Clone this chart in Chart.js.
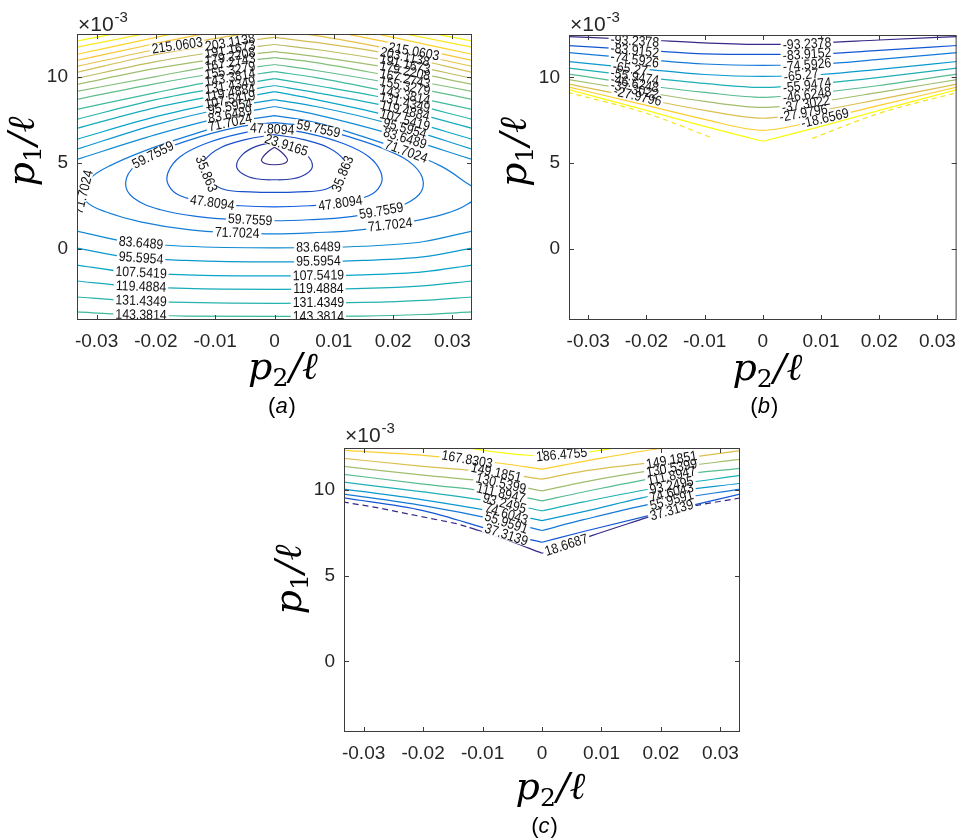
<!DOCTYPE html>
<html lang="en">
<head>
  <meta charset="UTF-8">
  <title>Contour panels (a) (b) (c)</title>
  <script src="https://cdn.jsdelivr.net/npm/chart.js"></script>
  <style>
    body { margin: 0; background: #fff; }
    #page { position: relative; width: 966px; height: 839px; }
    canvas { position: absolute; }
  </style>
</head>
<body>
<div id="page">
  <canvas id="chartA" width="490" height="420" style="left:0;top:0;width:490px;height:420px"></canvas>
  <canvas id="chartB" width="476" height="420" style="left:490px;top:0;width:476px;height:420px"></canvas>
  <canvas id="chartC" width="480" height="419" style="left:270px;top:420px;width:480px;height:419px"></canvas>
</div>
<script>
// axes shared by the three panels (y in units of 1e-3)
const xTicks = [-0.03, -0.02, -0.01, 0, 0.01, 0.02, 0.03];
const yTicks = [0, 5, 10];
const xRange = [-0.0333, 0.0333];
const yRange = [-4.13, 12.47];

// ---------- panel (a) ----------
// closed contours around the minimum (start/end on top, x = 0)
const aLoopLevels = [11.9700, 23.9165, 35.8630, 47.8094, 59.7559, 71.7024];
const aLoops = [
  [[0,5.90],[-0.0011,5.64],[-0.0019,5.35],[-0.0022,5.12],[-0.0015,4.94],[0,4.88],[0.0015,4.94],[0.0022,5.12],[0.0019,5.35],[0.0011,5.64],[0,5.90]],
  [[0,6.22],[-0.0032,5.93],[-0.0054,5.47],[-0.0064,4.83],[-0.0054,4.36],[-0.0031,4.07],[0,4.01],[0.0031,4.07],[0.0054,4.36],[0.0064,4.83],[0.0054,5.47],[0.0032,5.93],[0,6.22]],
  [[0,6.63],[-0.0049,6.34],[-0.0091,5.87],[-0.0117,5.17],[-0.0120,4.59],[-0.0108,3.90],[-0.0083,3.43],[-0.0041,3.31],[0,3.28],[0.0041,3.31],[0.0083,3.43],[0.0108,3.90],[0.0120,4.59],[0.0117,5.17],[0.0091,5.87],[0.0049,6.34],[0,6.63]],
  [[0,6.98],[-0.0058,6.69],[-0.0117,6.10],[-0.0159,5.35],[-0.0179,4.48],[-0.0179,3.72],[-0.0159,3.08],[-0.0108,2.67],[-0.0058,2.50],[0,2.44],[0.0058,2.50],[0.0108,2.67],[0.0159,3.08],[0.0179,3.72],[0.0179,4.48],[0.0159,5.35],[0.0117,6.10],[0.0058,6.69],[0,6.98]],
  [[0,7.33],[-0.0058,7.09],[-0.0125,6.51],[-0.0192,5.70],[-0.0235,4.83],[-0.0251,3.84],[-0.0238,2.97],[-0.0192,2.27],[-0.0125,1.86],[-0.0058,1.69],[0,1.63],[0.0058,1.69],[0.0125,1.86],[0.0192,2.27],[0.0238,2.97],[0.0251,3.84],[0.0235,4.83],[0.0192,5.70],[0.0125,6.51],[0.0058,7.09],[0,7.33]],
  [[0,7.73],[-0.0070,7.33],[-0.0144,6.57],[-0.0218,5.70],[-0.0277,4.83],[-0.0310,4.13],[-0.0324,3.43],[-0.0317,2.73],[-0.0285,2.15],[-0.0226,1.57],[-0.0142,1.10],[-0.0063,0.93],[0,0.87],[0.0062,0.93],[0.0144,1.10],[0.0228,1.57],[0.0287,2.03],[0.0321,2.50],[0.0343,3.20],[0.0316,4.01],[0.0279,4.83],[0.0218,5.70],[0.0144,6.57],[0.0070,7.33],[0,7.73]]
];
// upper contours, kinked at x = 0
const aUpperLevels = [83.6489, 95.5954, 107.5419, 119.4884, 131.4349, 143.3814, 155.3279, 167.2743,
  179.2208, 191.1673, 203.1138, 215.0603, 227.0068, 238.9533, 250.8998, 262.8463];
const aUpperX = [-0.0335, -0.02, -0.007, 0, 0.007, 0.02, 0.0335];
const aUpperY = [
  [5.17, 6.63, 7.79, 8.26, 7.79, 6.63, 5.17],
  [5.76, 7.21, 8.26, 8.66, 8.26, 7.21, 5.76],
  [6.34, 7.67, 8.66, 9.13, 8.66, 7.67, 6.34],
  [6.98, 8.20, 9.07, 9.48, 9.07, 8.20, 6.98],
  [7.50, 8.66, 9.48, 9.88, 9.48, 8.66, 7.50],
  [8.08, 9.07, 9.94, 10.29, 9.94, 9.07, 8.08],
  [8.66, 9.59, 10.35, 10.70, 10.35, 9.59, 8.66],
  [9.13, 10.00, 10.81, 11.10, 10.81, 10.00, 9.13],
  [9.53, 10.47, 11.16, 11.45, 11.16, 10.47, 9.53],
  [9.88, 10.87, 11.57, 11.86, 11.57, 10.87, 9.88],
  [10.23, 11.28, 11.98, 12.27, 11.98, 11.28, 10.23],
  [10.58, 11.57, 12.38, 12.67, 12.38, 11.57, 10.58],
  [10.93, 11.92, 12.79, 13.08, 12.79, 11.92, 10.93],
  [11.28, 12.27, 13.20, 13.49, 13.20, 12.27, 11.28],
  [11.69, 12.62, 13.60, 13.90, 13.60, 12.62, 11.69],
  [12.05, 12.97, 14.01, 14.30, 14.01, 12.97, 12.05]
];
// lower contours
const aLowerLevels = [83.6489, 95.5954, 107.5419, 119.4884, 131.4349, 143.3814];
const aLowerX = [-0.0335, -0.025, -0.015, 0, 0.015, 0.025, 0.0335];
const aLowerY = [
  [1.05, 0.41, 0.15, 0.06, 0.15, 0.41, 1.05],
  [0.06, -0.47, -0.67, -0.76, -0.67, -0.47, 0.06],
  [-0.93, -1.34, -1.51, -1.57, -1.51, -1.34, -0.93],
  [-1.86, -2.15, -2.30, -2.35, -2.30, -2.15, -1.86],
  [-2.79, -2.99, -3.11, -3.17, -3.11, -2.99, -2.79],
  [-3.66, -3.81, -3.90, -3.92, -3.90, -3.81, -3.66]
];
const aLabelText = ['215.0603','203.1138','191.1673','179.2208','167.2743','155.3279','143.3814','131.4349','119.4884','107.5419','95.5954','83.6489','71.7024',
  '215.0603','203.1138','191.1673','179.2208','167.2743','155.3279','143.3814','131.4349','119.4884','107.5419','95.5954','83.6489','71.7024',
  '47.8094','59.7559','23.9165','59.7559','35.863','35.863','71.7024','47.8094','47.8094','59.7559','59.7559','71.7024','71.7024',
  '83.6489','83.6489','95.5954','95.5954','107.5419','107.5419','119.4884','119.4884','131.4349','131.4349','143.3814','143.3814'];
const aLabelX = [-0.0164,-0.0075,-0.0075,-0.0075,-0.0075,-0.0075,-0.0075,-0.0075,-0.0075,-0.0075,-0.0075,-0.0075,-0.0075,
  0.0235,0.022,0.022,0.022,0.022,0.022,0.022,0.022,0.022,0.022,0.022,0.022,0.0222,
  -0.0004,0.0074,0.0020,-0.0205,-0.0115,0.0115,-0.0322,-0.0105,0.0111,-0.0041,0.0180,-0.0063,0.0195,
  -0.0225,0.0074,-0.0225,0.0074,-0.0225,0.0074,-0.0225,0.0074,-0.0225,0.0074,-0.0225,0.0074];
const aLabelY = [11.80,11.98,11.57,11.16,10.81,10.35,9.94,9.48,9.07,8.66,8.26,7.79,7.33,
  11.45,11.14,10.72,10.33,9.87,9.45,8.92,8.49,8.02,7.47,6.99,6.41,5.65,
  6.95,6.97,6.02,5.45,4.35,4.35,3.30,2.68,2.65,1.68,2.20,0.93,1.39,
  0.34,0.10,-0.53,-0.71,-1.38,-1.54,-2.19,-2.32,-3.02,-3.13,-3.83,-3.91];
const aLabelAngle = [-8,-10,-10,-10,-10,-10,-10,-10,-10,-10,-10,-11,-12,
  10,12,12,12,12,12,12,13,14,15,16,17,20,
  3,12,18,-27,68,-68,-76,8,-8,3,-10,2,-6,
  5,-1,4,-1,3,-1,2,0,2,0,1,0];

// ---------- panel (b) ----------
const bLevels = [-93.2378, -83.9152, -74.5926, -65.27, -55.9474, -46.6248, -37.3022, -27.9796, -18.6569, -9.3343];
const bX = [-0.0335, -0.02, -0.01, 0, 0.01, 0.02, 0.0335];
const bY = [
  [12.38, 12.18, 12.01, 11.92, 12.01, 12.18, 12.38],
  [11.86, 11.57, 11.37, 11.34, 11.37, 11.57, 11.86],
  [11.45, 11.05, 10.78, 10.70, 10.78, 11.05, 11.45],
  [10.93, 10.47, 10.17, 10.06, 10.17, 10.47, 10.93],
  [10.55, 10.00, 9.65, 9.42, 9.65, 10.00, 10.55],
  [10.20, 9.53, 9.13, 8.84, 9.13, 9.53, 10.20],
  [9.88, 9.13, 8.60, 8.26, 8.60, 9.13, 9.88],
  [9.62, 8.72, 8.08, 7.62, 8.08, 8.72, 9.62],
  [9.45, 8.37, 7.56, 6.92, 7.56, 8.37, 9.45],
  [9.30, 8.08, 7.15, 6.28, 7.15, 8.08, 9.30]
];
const bDashLeftX = [-0.0335, -0.02, -0.0085];
const bDashLeftY = [9.13, 7.91, 6.45];
const bDashRightX = [0.0085, 0.02, 0.0335];
const bDashRightY = [6.45, 7.91, 9.13];
const bLabelText = ['-93.2378','-83.9152','-74.5926','-65.27','-55.9474','-46.6248','-37.3022','-27.9796',
  '-93.2378','-83.9152','-74.5926','-65.27','-55.9474','-46.6248','-37.3022','-27.9796','-18.6569'];
const bLabelX = [-0.0220,-0.0220,-0.0220,-0.0228,-0.0220,-0.0220,-0.0220,-0.0215,
  0.0076,0.0076,0.0076,0.0066,0.0076,0.0076,0.0074,0.0070,0.0107];
const bLabelY = [12.12,11.56,11.02,10.50,10.04,9.64,9.28,8.90,
  11.95,11.35,10.73,10.12,9.54,8.98,8.45,7.92,7.62];
const bLabelAngle = [4,6,8,9,10,11,12,13,-3,-4,-5,-6,-7,-8,-9,-10,-13];

// ---------- panel (c) ----------
const cLevels = [18.6687, 37.3139, 55.9591, 74.6043, 93.2495, 111.8947, 130.5399, 149.1851, 167.8303, 186.4755];
const cX = [-0.0335, -0.02, -0.007, 0, 0.007, 0.02, 0.0335];
const cY = [
  [9.56, 8.81, 7.53, 6.96, 7.59, 8.69, 9.79],
  [9.79, 9.10, 8.23, 7.65, 8.28, 9.32, 10.08],
  [10.08, 9.44, 8.69, 8.23, 8.75, 9.79, 10.42],
  [10.48, 9.90, 9.27, 8.80, 9.32, 10.19, 10.88],
  [10.94, 10.36, 9.84, 9.38, 9.90, 10.77, 11.29],
  [11.40, 10.88, 10.42, 9.96, 10.48, 11.23, 11.81],
  [11.87, 11.40, 11.00, 10.65, 11.12, 11.69, 12.33],
  [12.33, 12.04, 11.58, 11.23, 11.69, 12.44, 12.85],
  [13.50, 12.90, 12.20, 11.98, 12.20, 12.90, 13.50]
];
// lowest level: solid near the centre, dashed towards the edges
const cLowX = [-0.0122, -0.007, 0, 0.0085, 0.0176];
const cLowY = [7.82, 7.24, 6.32, 7.36, 8.40];
const cDashLeftX = [-0.0335, -0.0275, -0.0144, -0.0122];
const cDashLeftY = [9.32, 8.97, 8.05, 7.82];
const cDashRightX = [0.0176, 0.0255, 0.0335];
const cDashRightY = [8.40, 9.09, 9.56];
const cLabelText = ['167.8303','149.1851','130.5399','111.8947','93.2495','74.6043','55.9591','37.3139','186.4755','18.6687',
  '149.1851','130.5399','111.8947','93.2495','74.6043','55.9591','37.3139'];
const cLabelX = [-0.0126,-0.0077,-0.0069,-0.0069,-0.0063,-0.0060,-0.0060,-0.0060,0.0033,0.0041,
  0.0218,0.0218,0.0218,0.0218,0.0218,0.0218,0.0218];
const cLabelY = [11.80,11.03,10.40,9.82,9.22,8.62,8.10,7.40,12.08,6.80,
  11.77,11.30,10.84,10.28,9.87,9.42,8.83];
const cLabelAngle = [10,12,13,13,15,17,18,18,-5,-18,-10,-10,-12,-12,-14,-15,-16];

// ---------- helpers ----------
const parulaStops = [[53,42,135],[15,92,221],[20,129,214],[6,164,202],[46,183,164],[135,191,119],[209,187,89],[254,200,50],[249,251,14]];
function parula(t) {
  t = Math.max(0, Math.min(1, t));
  const s = t * 8, i = Math.min(7, Math.floor(s)), f = s - i;
  const a = parulaStops[i], b = parulaStops[i + 1];
  return 'rgb(' + a.map((v, k) => Math.round(v + (b[k] - v) * f)).join(',') + ')';
}
function pts(xs, ys) { return xs.map((x, i) => ({ x: x, y: ys[i] })); }
function line(data, color, extra) {
  return Object.assign({ data: data, borderColor: color, borderWidth: 1.2, pointRadius: 0,
    pointHoverRadius: 0, showLine: true, fill: false, tension: 0, clip: 0 }, extra || {});
}
// V-shaped contour: two smooth arms meeting in a sharp kink at x = 0
function vLine(xs, ys, color) {
  const m = xs.indexOf(0);
  return [
    line(pts(xs.slice(0, m + 1), ys.slice(0, m + 1)), color, { cubicInterpolationMode: 'monotone' }),
    line(pts(xs.slice(m), ys.slice(m)), color, { cubicInterpolationMode: 'monotone' })
  ];
}
const sans = "'Liberation Sans', Arial, sans-serif";
const serif = "'DejaVu Serif', 'Liberation Serif', serif";

function labelPlugin(texts, xs, ys, angles) {
  return {
    id: 'contourLabels',
    afterDatasetsDraw(chart) {
      const { ctx, chartArea: a, scales: { x, y } } = chart;
      ctx.save();
      ctx.beginPath();
      ctx.rect(a.left, a.top, a.width, a.height);
      ctx.clip();
      ctx.font = '14px ' + sans;
      const items = texts.map((t, i) => ({ t, px: x.getPixelForValue(xs[i]), py: y.getPixelForValue(ys[i]),
        r: angles[i] * Math.PI / 180, w: ctx.measureText(t).width * 0.88 }));
      ctx.fillStyle = '#fff';
      items.forEach(it => {
        ctx.save(); ctx.translate(it.px, it.py); ctx.rotate(it.r);
        ctx.fillRect(-it.w / 2 - 2, -5, it.w + 4, 10);
        ctx.restore();
      });
      ctx.fillStyle = '#111';
      ctx.textAlign = 'center';
      ctx.textBaseline = 'middle';
      items.forEach(it => {
        ctx.save(); ctx.translate(it.px, it.py); ctx.rotate(it.r); ctx.scale(0.88, 1);
        ctx.fillText(it.t, 0, 0.5);
        ctx.restore();
      });
      ctx.restore();
    }
  };
}

function drawAxisName(ctx, sub, cx, cy, vertical) {
  const big = 'italic 38px ' + serif, small = '25px ' + serif;
  ctx.font = big; const wp = ctx.measureText('p').width; const wr = ctx.measureText('/\u2113').width;
  ctx.font = small; const ws = ctx.measureText(sub).width;
  const x0 = -(wp + ws + wr) / 2;
  ctx.save();
  ctx.translate(cx, cy);
  if (vertical) ctx.rotate(-Math.PI / 2);
  ctx.fillStyle = '#000'; ctx.textAlign = 'left'; ctx.textBaseline = 'alphabetic';
  ctx.font = big; ctx.fillText('p', x0, 0);
  ctx.font = small; ctx.fillText(sub, x0 + wp, 7);
  ctx.font = big; ctx.fillText('/\u2113', x0 + wp + ws + 1, 0);
  ctx.restore();
}

function framePlugin(cfg) {
  return {
    id: 'frame',
    afterDraw(chart) {
      const { ctx, chartArea: a, scales: { x, y } } = chart;
      const cx = (a.left + a.right) / 2, cy = (a.top + a.bottom) / 2;
      ctx.save();
      ctx.strokeStyle = '#3c3c3c';
      ctx.lineWidth = 1;
      ctx.strokeRect(a.left + 0.5, a.top + 0.5, a.width - 1, a.height - 1);
      ctx.beginPath();
      xTicks.forEach(v => {
        const px = Math.round(x.getPixelForValue(v)) + 0.5;
        ctx.moveTo(px, a.bottom); ctx.lineTo(px, a.bottom - 5);
        ctx.moveTo(px, a.top); ctx.lineTo(px, a.top + 5);
      });
      yTicks.forEach(v => {
        const py = Math.round(y.getPixelForValue(v)) + 0.5;
        ctx.moveTo(a.left, py); ctx.lineTo(a.left + 5, py);
        ctx.moveTo(a.right, py); ctx.lineTo(a.right - 5, py);
      });
      ctx.stroke();

      // x10^-3 multiplier
      ctx.fillStyle = '#262626';
      ctx.textAlign = 'left'; ctx.textBaseline = 'alphabetic';
      ctx.font = '21px ' + sans;
      const ex = a.left + 1, ey = a.top + cfg.expDy;
      ctx.fillText('\u00d710', ex, ey);
      const w10 = ctx.measureText('\u00d710').width;
      ctx.font = '15px ' + sans;
      ctx.fillText('-3', ex + w10 + 1, ey - 9);

      drawAxisName(ctx, '2', cx + cfg.xtDx, a.bottom + cfg.xtDy, false);
      drawAxisName(ctx, '1', a.left - 43, cy + cfg.ytDy, true);

      // caption
      ctx.fillStyle = '#000';
      const up = '22px ' + sans, it = 'italic 22px ' + sans;
      ctx.font = up; const wl = ctx.measureText('(').width, wr2 = ctx.measureText(')').width;
      ctx.font = it; const wm = ctx.measureText(cfg.tag).width;
      let px = cx + cfg.capDx - (wl + wm + wr2) / 2, py = a.bottom + cfg.capDy;
      ctx.font = up; ctx.fillText('(', px, py);
      ctx.font = it; ctx.fillText(cfg.tag, px + wl, py);
      ctx.font = up; ctx.fillText(')', px + wl + wm + 1, py);
      ctx.restore();
    }
  };
}

function fmtX(v) { return v === 0 ? '0' : String(Math.round(v * 100) / 100); }

function makePanel(id, datasets, labels, cfg) {
  return new Chart(document.getElementById(id), {
    type: 'scatter',
    data: { datasets: datasets },
    options: {
      responsive: false,
      animation: false,
      devicePixelRatio: 1,
      events: [],
      layout: { padding: { left: 0, bottom: 0, top: cfg.top, right: cfg.right } },
      plugins: { legend: { display: false }, tooltip: { enabled: false } },
      scales: {
        x: {
          type: 'linear', min: xRange[0], max: xRange[1],
          afterBuildTicks: s => { s.ticks = xTicks.map(v => ({ value: v })); },
          afterFit: s => { s.height = cfg.xh; },
          grid: { display: false, drawTicks: false }, border: { display: false },
          ticks: { autoSkip: false, maxRotation: 0, padding: 10, color: '#262626',
            font: { family: sans, size: 19 }, callback: v => fmtX(v) }
        },
        y: {
          type: 'linear', min: yRange[0], max: yRange[1],
          afterBuildTicks: s => { s.ticks = yTicks.map(v => ({ value: v })); },
          afterFit: s => { s.width = cfg.yw; },
          grid: { display: false, drawTicks: false }, border: { display: false },
          ticks: { autoSkip: false, padding: 9, color: '#262626',
            font: { family: sans, size: 19 }, callback: v => String(v) }
        }
      }
    },
    plugins: [labels, framePlugin(cfg)]
  });
}

// ---------- build (a) ----------
const aMin = aLoopLevels[0], aMax = aUpperLevels[aUpperLevels.length - 1];
const aColor = L => parula((L - aMin) / (aMax - aMin));
const aSets = [];
aLoops.forEach((loop, i) => aSets.push(line(loop.map(p => ({ x: p[0], y: p[1] })), aColor(aLoopLevels[i]), { tension: 0.4 })));
aUpperY.forEach((row, i) => aSets.push(...vLine(aUpperX, row, aColor(aUpperLevels[i]))));
aLowerY.forEach((row, i) => aSets.push(line(pts(aLowerX, row), aColor(aLowerLevels[i]), { cubicInterpolationMode: 'monotone' })));
makePanel('chartA', aSets, labelPlugin(aLabelText, aLabelX, aLabelY, aLabelAngle),
  { top: 34, right: 18, xh: 100, yw: 77, expDy: -3, xtDx: 8, xtDy: 59, ytDy: -25, capDx: 7, capDy: 93, tag: 'a' });

// ---------- build (b) ----------
const bMin = bLevels[0], bMax = bLevels[bLevels.length - 1];
const bColor = L => parula((L - bMin) / (bMax - bMin));
const bSets = [];
bY.forEach((row, i) => {
  if (i < bY.length - 1) bSets.push(line(pts(bX, row), bColor(bLevels[i]), { cubicInterpolationMode: 'monotone' }));
  else bSets.push(...vLine(bX, row, bColor(bLevels[i])));
});
bSets.push(line(pts(bDashLeftX, bDashLeftY), '#f5e31f', { borderDash: [5, 4], cubicInterpolationMode: 'monotone' }));
bSets.push(line(pts(bDashRightX, bDashRightY), '#f5e31f', { borderDash: [5, 4], cubicInterpolationMode: 'monotone' }));
makePanel('chartB', bSets, labelPlugin(bLabelText, bLabelX, bLabelY, bLabelAngle),
  { top: 35, right: 2, xh: 100, yw: 79, expDy: -4, xtDx: 4, xtDy: 60, ytDy: -25, capDx: 1, capDy: 93, tag: 'b' });

// ---------- build (c) ----------
const cMin = cLevels[0], cMax = cLevels[cLevels.length - 1];
const cColor = L => parula((L - cMin) / (cMax - cMin));
const cSets = [];
cY.forEach((row, i) => cSets.push(...vLine(cX, row, cColor(cLevels[i + 1]))));
cSets.push(...vLine(cLowX, cLowY, cColor(cLevels[0])));
cSets.push(line(pts(cDashLeftX, cDashLeftY), cColor(cLevels[0]), { borderDash: [6, 4] }));
cSets.push(line(pts(cDashRightX, cDashRightY), cColor(cLevels[0]), { borderDash: [6, 4] }));
makePanel('chartC', cSets, labelPlugin(cLabelText, cLabelX, cLabelY, cLabelAngle),
  { top: 28, right: 10, xh: 107, yw: 74, expDy: -6, xtDx: 8, xtDy: 67, ytDy: -10, capDx: 2, capDy: 101, tag: 'c' });
</script>
</body>
</html>
